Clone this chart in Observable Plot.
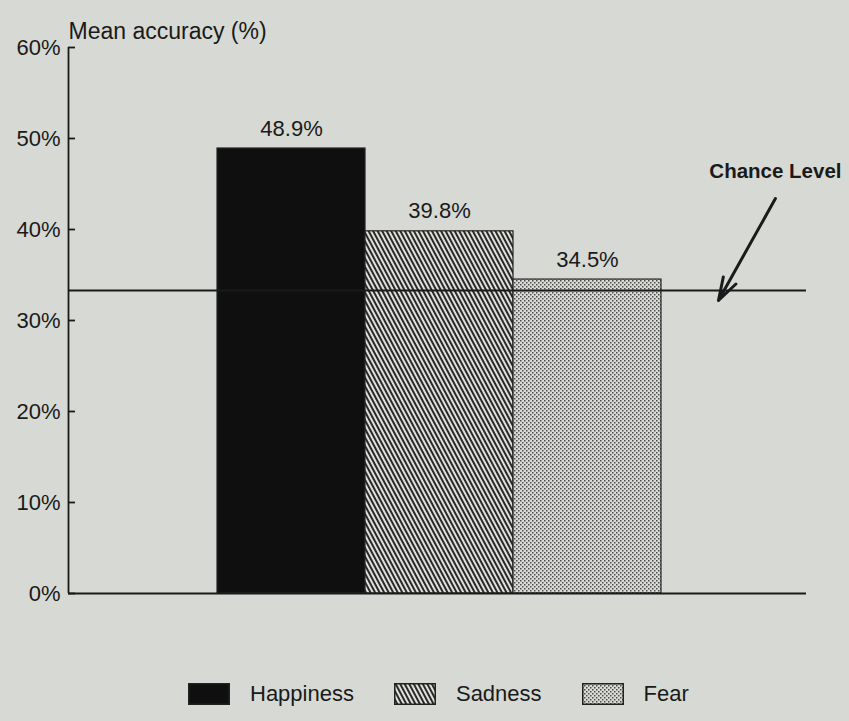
<!DOCTYPE html>
<html>
<head>
<meta charset="utf-8">
<script src="https://cdn.jsdelivr.net/npm/d3@7"></script>
<script src="https://cdn.jsdelivr.net/npm/@observablehq/plot@0.6"></script>
<style>
  html, body { margin: 0; padding: 0; background: #d7d9d4; }
  body { width: 849px; height: 721px; overflow: hidden; font-family: "Liberation Sans", Arial, sans-serif; color: #1a1a1a; }
  #legend { display: flex; align-items: center; padding-left: 188px; margin-top: 22px; height: 24px; font-size: 22px; }
  #legend .item { display: flex; align-items: center; margin-right: 40px; }
  #legend svg.sw { margin-right: 20px; display: block; }
</style>
</head>
<body>
<svg width="0" height="0" style="position:absolute">
  <defs>
    <pattern id="hatch" width="4" height="4" patternUnits="userSpaceOnUse" patternTransform="rotate(-28)">
      <rect width="4" height="4" fill="#e0e1dd"></rect>
      <line x1="1" y1="0" x2="1" y2="4" stroke="#151515" stroke-width="1.8"></line>
    </pattern>
    <pattern id="dots" width="4" height="4" patternUnits="userSpaceOnUse">
      <rect width="4" height="4" fill="#dadbd7"></rect>
      <rect x="0" y="0" width="1.5" height="1.5" fill="#4a4a4a"></rect>
      <rect x="2" y="2" width="1.5" height="1.5" fill="#4a4a4a"></rect>
    </pattern>
  </defs>
</svg>
<div id="chart"></div>
<div id="legend"></div>
<script>
// ---- data ----
const categories = ["Happiness", "Sadness", "Fear"];
const values = [48.9, 39.8, 34.5];
const valueLabels = ["48.9%", "39.8%", "34.5%"];
const yTicks = [0, 10, 20, 30, 40, 50, 60];
const chanceLevel = 33.3;
const yTitle = "Mean accuracy (%)";
const chanceLabel = "Chance Level";
// annotation anchor (x in bar-slot units, y in %)
const chanceText = {x: 3.77, y: 46.4};
const chanceArrow = {x1: 3.77, y1: 43.4, x2: 3.385, y2: 32.2};

const fills = ["#0f0f0f", "url(#hatch)", "url(#dots)"];

const data = categories.map((c, i) => ({cat: c, i, value: values[i], label: valueLabels[i]}));

const W = 849, H = 660, mL = 68, mR = 43, mT = 47, mB = 67;
const frameW = W - mL - mR;

const chart = Plot.plot({
  width: W,
  height: H,
  marginLeft: mL,
  marginRight: mR,
  marginTop: mT,
  marginBottom: mB,
  style: {background: "transparent", fontFamily: "Liberation Sans, Arial, sans-serif", color: "#1a1a1a"},
  x: {domain: [-1.007, 3.98], axis: null},
  y: {domain: [0, 60], axis: null},
  color: {domain: categories, range: fills},
  marks: [
    // bars
    Plot.rectY(data, {x1: d => d.i, x2: d => d.i + 1, y: "value", fill: "cat", stroke: "#222", strokeWidth: 1.2}),
    // chance level line
    Plot.ruleY([chanceLevel], {stroke: "#1a1a1a", strokeWidth: 2}),
    // baseline
    Plot.ruleY([0], {stroke: "#1a1a1a", strokeWidth: 2}),
    // y axis line
    Plot.ruleX([-1.007], {y1: 0, y2: 60, stroke: "#1a1a1a", strokeWidth: 1.8}),
    // inward tick marks
    Plot.tickY(yTicks, {y: d => d, insetRight: frameW - 7, stroke: "#1a1a1a", strokeWidth: 1.8}),
    // tick labels
    Plot.text(yTicks, {y: d => d, frameAnchor: "left", dx: -8, textAnchor: "end", text: d => d + "%", fontSize: 22, fill: "#1a1a1a"}),
    // axis title
    Plot.text([yTitle], {frameAnchor: "top-left", dy: -25, dx: 0, textAnchor: "start", fontSize: 23, fill: "#1a1a1a"}),
    // value labels
    Plot.text(data, {x: d => d.i + 0.5, y: "value", text: "label", dy: -20, fontSize: 22, fill: "#1a1a1a"}),
    // chance annotation
    Plot.text([chanceLabel], {x: () => chanceText.x, y: () => chanceText.y, text: d => d, fontSize: 20.5, fontWeight: "bold", fill: "#1a1a1a"}),
    Plot.arrow([chanceArrow], {x1: "x1", y1: "y1", x2: "x2", y2: "y2", stroke: "#1a1a1a", strokeWidth: 3, headLength: 12, headAngle: 35})
  ]
});
document.getElementById("chart").appendChild(chart);

// legend
const legend = d3.select("#legend");
categories.forEach((c, i) => {
  const item = legend.append("div").attr("class", "item");
  const sw = item.append("svg").attr("class", "sw").attr("width", 42).attr("height", 22);
  sw.append("rect").attr("x", 0.75).attr("y", 0.75).attr("width", 40.5).attr("height", 20.5)
    .attr("fill", fills[i]).attr("stroke", "#222").attr("stroke-width", 1.5);
  item.append("span").text(c);
});
</script>
</body>
</html>
